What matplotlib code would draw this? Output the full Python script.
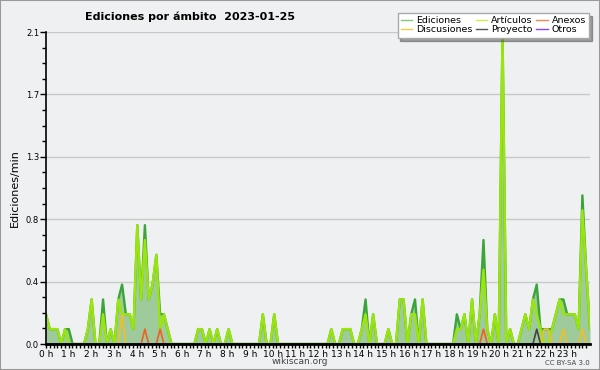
import matplotlib.pyplot as plt
import numpy as np
from matplotlib.lines import Line2D
from matplotlib.patches import Rectangle

# edits per minute, 10-minute bins (6 per hour)
ediciones = [
    0.2, 0.1, 0.1, 0.1, 0.0, 0.1,   # 0 h
    0.1, 0.0, 0.0, 0.0, 0.0, 0.1,   # 1 h
    0.3, 0.0, 0.0, 0.3, 0.0, 0.1,   # 2 h
    0.0, 0.3, 0.4, 0.2, 0.2, 0.1,   # 3 h
    0.8, 0.3, 0.8, 0.3, 0.4, 0.6,   # 4 h
    0.2, 0.2, 0.1, 0.0, 0.0, 0.0,   # 5 h
    0.0, 0.0, 0.0, 0.0, 0.1, 0.1,   # 6 h
    0.0, 0.1, 0.0, 0.1, 0.0, 0.0,   # 7 h
    0.1, 0.0, 0.0, 0.0, 0.0, 0.0,   # 8 h
    0.0, 0.0, 0.0, 0.2, 0.0, 0.0,   # 9 h
    0.2, 0.0, 0.0, 0.0, 0.0, 0.0,   # 10 h
    0.0, 0.0, 0.0, 0.0, 0.0, 0.0,   # 11 h
    0.0, 0.0, 0.0, 0.1, 0.0, 0.0,   # 12 h
    0.1, 0.1, 0.1, 0.0, 0.0, 0.1,   # 13 h
    0.3, 0.0, 0.2, 0.0, 0.0, 0.0,   # 14 h
    0.1, 0.0, 0.0, 0.3, 0.3, 0.0,   # 15 h
    0.2, 0.3, 0.0, 0.3, 0.0, 0.0,   # 16 h
    0.0, 0.0, 0.0, 0.0, 0.0, 0.0,   # 17 h
    0.2, 0.1, 0.2, 0.0, 0.3, 0.0,   # 18 h
    0.2, 0.7, 0.1, 0.0, 0.2, 0.0,   # 19 h
    2.1, 0.0, 0.1, 0.0, 0.0, 0.1,   # 20 h
    0.2, 0.1, 0.3, 0.4, 0.1, 0.1,   # 21 h
    0.1, 0.1, 0.2, 0.3, 0.3, 0.2,   # 22 h
    0.2, 0.2, 0.1, 1.0, 0.5, 0.1,   # 23 h
]
articulos = [
    0.2, 0.1, 0.1, 0.1, 0.0, 0.1,
    0.0, 0.0, 0.0, 0.0, 0.0, 0.1,
    0.3, 0.0, 0.0, 0.2, 0.0, 0.1,
    0.0, 0.3, 0.2, 0.2, 0.2, 0.1,
    0.8, 0.3, 0.7, 0.3, 0.4, 0.6,
    0.1, 0.2, 0.1, 0.0, 0.0, 0.0,
    0.0, 0.0, 0.0, 0.0, 0.1, 0.1,
    0.0, 0.1, 0.0, 0.1, 0.0, 0.0,
    0.1, 0.0, 0.0, 0.0, 0.0, 0.0,
    0.0, 0.0, 0.0, 0.2, 0.0, 0.0,
    0.2, 0.0, 0.0, 0.0, 0.0, 0.0,
    0.0, 0.0, 0.0, 0.0, 0.0, 0.0,
    0.0, 0.0, 0.0, 0.1, 0.0, 0.0,
    0.1, 0.1, 0.1, 0.0, 0.0, 0.1,
    0.2, 0.0, 0.2, 0.0, 0.0, 0.0,
    0.1, 0.0, 0.0, 0.3, 0.3, 0.0,
    0.2, 0.2, 0.0, 0.3, 0.0, 0.0,
    0.0, 0.0, 0.0, 0.0, 0.0, 0.0,
    0.1, 0.1, 0.2, 0.0, 0.3, 0.0,
    0.2, 0.5, 0.1, 0.0, 0.2, 0.0,
    2.1, 0.0, 0.1, 0.0, 0.0, 0.1,
    0.2, 0.1, 0.3, 0.2, 0.1, 0.0,
    0.0, 0.1, 0.2, 0.3, 0.2, 0.2,
    0.2, 0.2, 0.1, 0.9, 0.5, 0.1,
]
# sparse series: bin index -> value
discusiones = {20: 0.2, 131: 0.1, 132: 0.1, 136: 0.1, 141: 0.1}
anexos = {26: 0.1, 30: 0.1, 115: 0.1}
proyecto = {129: 0.1}
otros = {}

hours = [f"{h} h" for h in range(24)]
title = "Ediciones por ámbito  2023-01-25"


def expand(d):
    s = np.zeros(144)
    for k, v in d.items():
        s[k] = v
    return s


x = np.linspace(0, 24, 144)

fig = plt.figure(figsize=(6, 3.7), dpi=100, facecolor="#eff0f1")
ax = fig.add_axes([46 / 600, 26 / 370, 544 / 600, 312 / 370])
ax.set_facecolor("#eff0f1")

ax.fill_between(x, ediciones, 0, color="#9fca9c", lw=0)
ax.plot(x, ediciones, color="#3aa53a", lw=1.7)
ax.plot(x, articulos, color="#9be60a", lw=1.7)
ax.plot(x, expand(discusiones), color="#f0c020", lw=1.2)
ax.plot(x, expand(anexos), color="#f06020", lw=1.2)
ax.plot(x, expand(proyecto), color="#444444", lw=1.2)
ax.plot(x, expand(otros), color="#9040f0", lw=1.2)

ax.set_xlim(0, 24)
ax.set_ylim(0, 2.1)
yt = np.linspace(0, 2.1, 6)
ax.set_yticks(yt)
ax.set_yticklabels([f"{v:.1f}" for v in yt], fontsize=6)
ax.set_yticks(np.linspace(0, 2.1, 21), minor=True)
ax.set_xticks(range(24))
ax.set_xticklabels(hours, fontsize=6.5)
ax.set_xticks(np.arange(0, 24, 1 / 6), minor=True)
ax.tick_params(axis="x", which="both", length=3, width=1, pad=1)
ax.tick_params(axis="y", which="major", length=4, width=1, pad=1)
ax.tick_params(axis="y", which="minor", length=3, width=1)
ax.grid(axis="y", which="major", color="#c8c8c8", lw=1)
ax.set_axisbelow(True)
for s in ["top", "right"]:
    ax.spines[s].set_visible(False)
ax.spines["left"].set_linewidth(1.2)
ax.spines["bottom"].set_linewidth(2)
ax.set_ylabel("Ediciones/min", fontsize=8, labelpad=4)

fig.text(85 / 600, 1 - 17 / 370, title, fontsize=8, fontweight="bold", va="center")
fig.text(300 / 600, 1 - 362 / 370, "wikiscan.org", fontsize=6.5, color="#444444",
         ha="center", va="center")
fig.text(590 / 600, 1 - 363 / 370, "CC BY-SA 3.0", fontsize=5, color="#444444",
         ha="right", va="center")

handles = [
    Line2D([], [], color="#80c880", lw=1),
    Line2D([], [], color="#eecc44", lw=1),
    Line2D([], [], color="#ccee55", lw=1),
    Line2D([], [], color="#555555", lw=1),
    Line2D([], [], color="#ee8855", lw=1),
    Line2D([], [], color="#8844ee", lw=1),
]
names = ["Ediciones", "Discusiones", "Artículos", "Proyecto", "Anexos", "Otros"]
fig.legend(handles, names, ncol=3, loc="upper right",
           bbox_to_anchor=(594 / 600, 1 - 8 / 370), fontsize=6.8,
           frameon=True, fancybox=False, shadow=True, edgecolor="#aaaaaa",
           framealpha=1, borderpad=0.35, labelspacing=0.05, handlelength=1.2,
           handletextpad=0.4, columnspacing=0.4)

fig.patches.append(Rectangle((0, 0), 1, 1, transform=fig.transFigure,
                             fill=False, edgecolor="#999999", lw=1.5))

fig.savefig("out.png", dpi=100, facecolor=fig.get_facecolor())
